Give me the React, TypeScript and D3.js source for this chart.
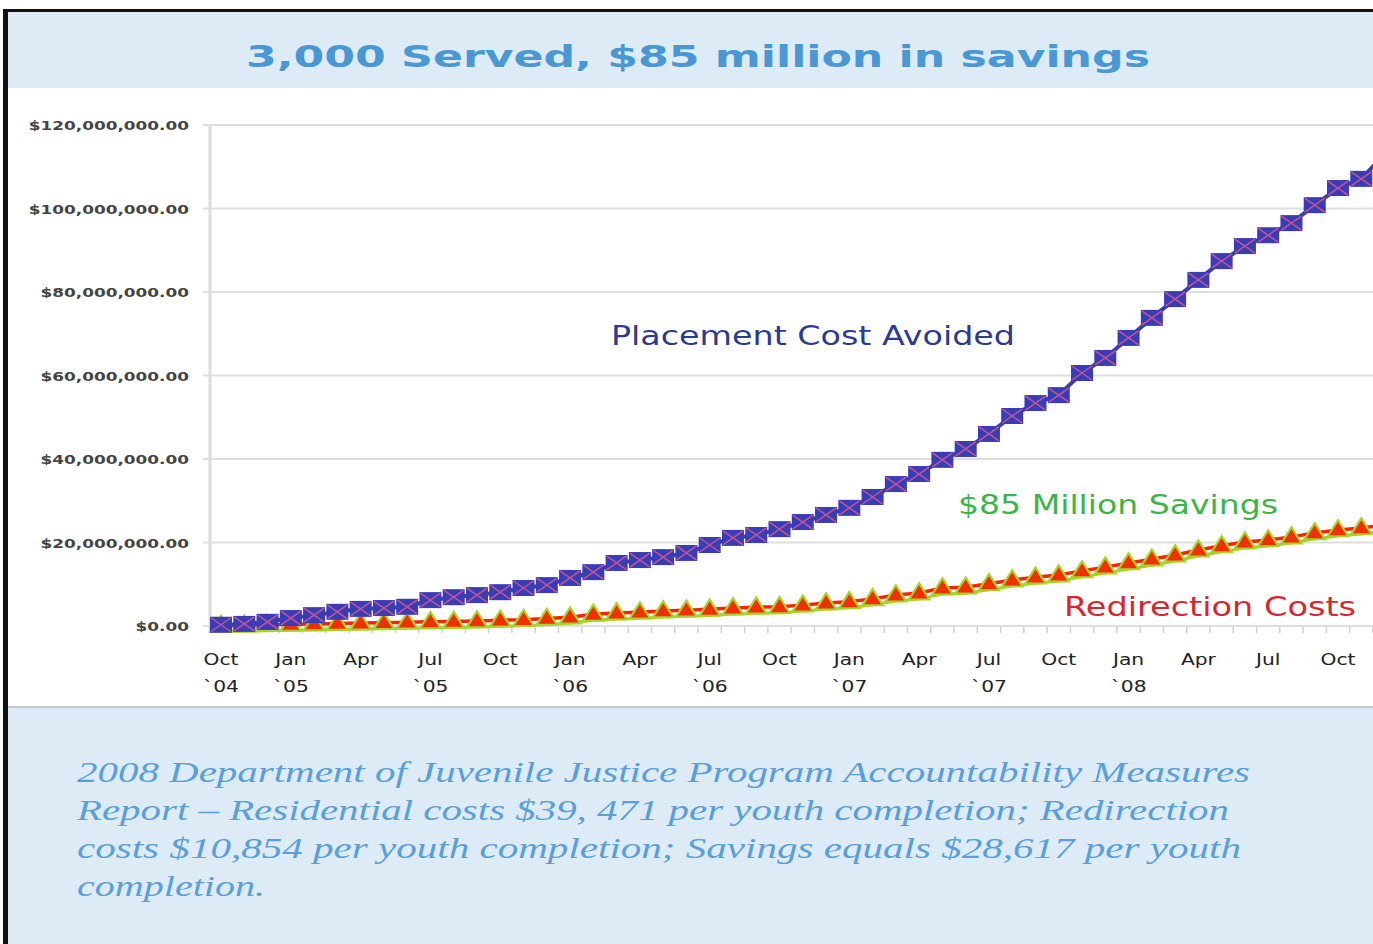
import React from 'react';
import * as d3 from 'd3';

// monthly categories, Oct 2004 .. Dec 2008
const months: Date[] = d3.timeMonths(new Date(2004, 9, 1), new Date(2009, 0, 2));

// cumulative dollars (one value per month)
const placementCost: number[] = [
  0.3, 0.5, 1.0, 1.9, 2.6, 3.4, 4.1, 4.3, 4.6, 6.2, 6.9, 7.4, 8.1, 9.1, 9.8, 11.5, 12.9, 15.1, 15.8, 16.5,
  17.5, 19.4, 21.1, 21.8, 23.2, 24.9, 26.6, 28.3, 30.9, 34.0, 36.4, 39.8, 42.4, 46.0, 50.3, 53.4, 55.3, 60.6,
  64.2, 69.0, 73.8, 78.3, 82.9, 87.4, 91.0, 93.6, 96.5, 100.8, 104.9, 107.1, 113.0,
].map((v) => v * 1e6);

const redirectionCost: number[] = [
  0.1, 0.2, 0.3, 0.4, 0.5, 0.6, 0.7, 0.8, 0.9, 1.0, 1.1, 1.2, 1.4, 1.5, 1.8, 2.1, 2.8, 3.1, 3.3, 3.6,
  3.8, 4.0, 4.3, 4.5, 4.6, 5.0, 5.5, 5.8, 6.5, 7.4, 7.9, 9.1, 9.3, 10.1, 11.0, 11.7, 12.2, 13.2,
  14.1, 15.1, 16.0, 17.0, 18.2, 19.2, 20.1, 20.6, 21.3, 22.3, 23.0, 23.5, 24.2,
].map((v) => v * 1e6);

const yTicks: number[] = [0, 20e6, 40e6, 60e6, 80e6, 100e6, 120e6];

// quarter labels, one every 3 months starting at Oct '04
const quarterLabels: string[] = ['Oct', 'Jan', 'Apr', 'Jul', 'Oct', 'Jan', 'Apr', 'Jul', 'Oct', 'Jan', 'Apr', 'Jul', 'Oct', 'Jan', 'Apr', 'Jul', 'Oct'];
const yearLabels: string[] = ['`04', '`05', '', '`05', '', '`06', '', '`06', '', '`07', '', '`07', '', '`08', '', '', ''];

const title = '3,000 Served, $85 million in savings';
const footerLines: string[] = [
  '2008 Department of Juvenile Justice Program Accountability Measures',
  'Report \u2013 Residential costs $39, 471 per youth completion; Redirection',
  'costs $10,854 per youth completion; Savings equals $28,617 per youth',
  'completion.',
];
const footerWidths = [1173, 1152, 1164, 188];

const W = 1373;
const H = 944;
const sans = '"DejaVu Sans", Verdana, sans-serif';

export default function App() {
  const x = d3.scaleLinear().domain([0, 48]).range([221, 1338]);
  const y = d3.scaleLinear().domain([0, 120e6]).range([626, 125]);
  const fmt = d3.format('$,.2f');

  const line = d3
    .line<number>()
    .x((_, i) => x(i))
    .y((d) => y(d));

  const tri = d3.symbol().type(d3.symbolTriangle).size(150)();

  return (
    <div style={{ position: 'absolute', left: 0, top: 0 }}>
      <svg width={W} height={H} style={{ display: 'block' }}>
        <rect x={0} y={0} width={W} height={H} fill="#fff" />
        {/* title band */}
        <rect x={8} y={12} width={W - 8} height={76} fill="#ddebf7" />
        <text
          x={246}
          y={67}
          fontFamily={sans}
          fontWeight="bold"
          fontSize={31}
          fill="#4a98d3"
          textLength={904}
          lengthAdjust="spacingAndGlyphs"
        >
          {title}
        </text>

        {/* footer band */}
        <rect x={8} y={708} width={W - 8} height={H - 708} fill="#ddebf7" />
        <line x1={8} x2={W} y1={707} y2={707} stroke="#c4c8cc" strokeWidth={2} />
        {footerLines.map((t, i) => (
          <text
            key={i}
            x={77}
            y={782 + i * 38}
            fontFamily='"Liberation Serif", serif'
            fontStyle="italic"
            fontSize={29}
            fill="#5a9fd8"
            textLength={footerWidths[i]}
            lengthAdjust="spacingAndGlyphs"
          >
            {t}
          </text>
        ))}

        {/* frame */}
        <line x1={3} x2={W} y1={10.5} y2={10.5} stroke="#111" strokeWidth={3} />
        <line x1={5.5} x2={5.5} y1={9} y2={H} stroke="#111" strokeWidth={5} />

        {/* grid + y axis */}
        {yTicks.map((t) => (
          <g key={t}>
            <line x1={203} x2={W} y1={y(t)} y2={y(t)} stroke="#dedede" strokeWidth={2} />
            <text
              transform={`translate(189,${y(t) + 5}) scale(1.3,1)`}
              textAnchor="end"
              fontFamily={sans}
              fontWeight="bold"
              fontSize={13}
              fill="#444"
            >
              {fmt(t)}
            </text>
          </g>
        ))}
        <line x1={210} x2={210} y1={125} y2={628} stroke="#dcdcdc" strokeWidth={3} />

        {/* month ticks between categories */}
        {months.map((_, i) => (
          <line key={i} x1={x(i - 0.5)} x2={x(i - 0.5)} y1={627} y2={633} stroke="#cfcfcf" strokeWidth={1.5} />
        ))}
        {quarterLabels.map((m, k) => (
          <g key={k} fontFamily={sans} fontSize={15} fill="#222">
            <text transform={`translate(${x(k * 3)},665) scale(1.35,1)`} textAnchor="middle">
              {m}
            </text>
            {yearLabels[k] && (
              <text transform={`translate(${x(k * 3)},692) scale(1.35,1)`} textAnchor="middle">
                {yearLabels[k]}
              </text>
            )}
          </g>
        ))}

        {/* redirection costs */}
        <path d={line(redirectionCost) ?? ''} transform="translate(0,6)" fill="none" stroke="#a6d32a" strokeWidth={3} />
        <path d={line(redirectionCost) ?? ''} fill="none" stroke="#ff2200" strokeWidth={3.5} />
        {redirectionCost.map((v, i) => (
          <path
            key={i}
            d={tri ?? ''}
            transform={`translate(${x(i)},${y(v) + 1}) scale(1.1,1)`}
            fill="#f03000"
            stroke="#a6d32a"
            strokeWidth={2}
          />
        ))}

        {/* placement cost avoided */}
        <path d={line(placementCost) ?? ''} fill="none" stroke="#3b3db0" strokeWidth={4} />
        {placementCost.map((v, i) => {
          const cx = x(i);
          const cy = y(v);
          return (
            <g key={i}>
              <rect x={cx - 11} y={cy - 8} width={22} height={16} fill="#3a3cb4" />
              <line x1={cx - 10} y1={cy - 7} x2={cx + 10} y2={cy + 7} stroke="#c0559a" strokeWidth={1.5} />
              <line x1={cx - 10} y1={cy + 7} x2={cx + 10} y2={cy - 7} stroke="#c0559a" strokeWidth={1.5} />
            </g>
          );
        })}

        {/* series labels */}
        <text x={611} y={345} fontFamily={sans} fontSize={26} fill="#2c3a8f" textLength={404} lengthAdjust="spacingAndGlyphs">
          Placement Cost Avoided
        </text>
        <text x={958} y={514} fontFamily={sans} fontSize={26} fill="#3cb44a" textLength={320} lengthAdjust="spacingAndGlyphs">
          $85 Million Savings
        </text>
        <text x={1064} y={616} fontFamily={sans} fontSize={26} fill="#d8262e" textLength={292} lengthAdjust="spacingAndGlyphs">
          Redirection Costs
        </text>
      </svg>
    </div>
  );
}
